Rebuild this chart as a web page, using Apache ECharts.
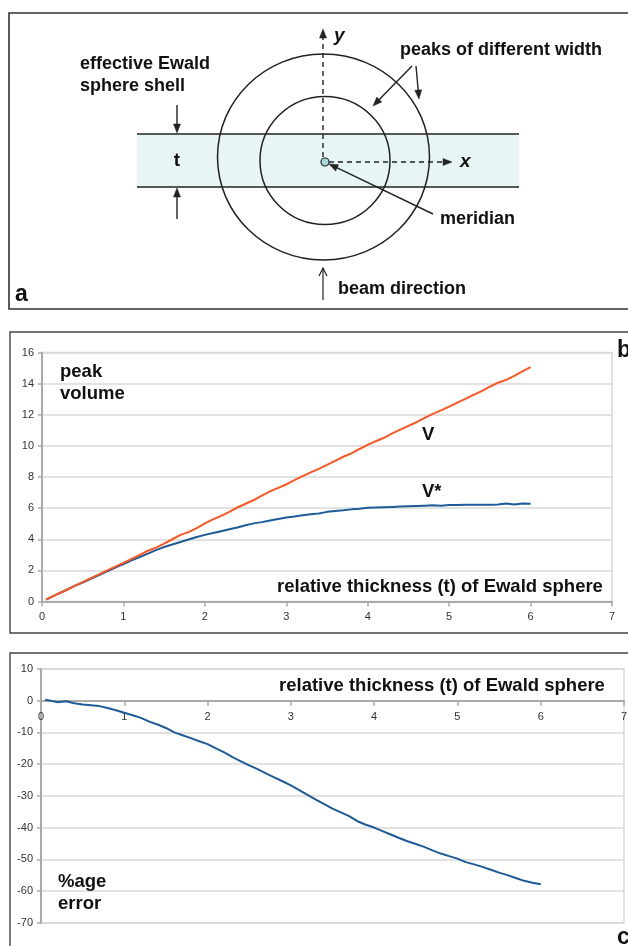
<!DOCTYPE html>
<html>
<head>
<meta charset="utf-8">
<script src="https://cdn.jsdelivr.net/npm/echarts@6/dist/echarts.min.js"></script>
<style>
  html, body { margin: 0; padding: 0; background: #fff; }
  #chart { width: 628px; height: 946px; }
</style>
</head>
<body>
<div id="chart"></div>
<script>
// Relative thickness t of the Ewald sphere shell
const thickness = [0.05, 0.1, 0.2, 0.3, 0.4, 0.5, 0.6, 0.7, 0.8, 0.9, 1.0,
  1.1, 1.2, 1.3, 1.4, 1.5, 1.6, 1.7, 1.8, 1.9, 2.0,
  2.1, 2.2, 2.3, 2.4, 2.5, 2.6, 2.7, 2.8, 2.9, 3.0,
  3.1, 3.2, 3.3, 3.4, 3.5, 3.6, 3.7, 3.8, 3.9, 4.0,
  4.1, 4.2, 4.3, 4.4, 4.5, 4.6, 4.7, 4.8, 4.9, 5.0,
  5.1, 5.2, 5.3, 5.4, 5.5, 5.6, 5.7, 5.8, 5.9, 6.0];

// Peak volume V
const volumeV = [0.12, 0.25, 0.50, 0.74, 1.00, 1.24, 1.50, 1.74, 2.00, 2.24, 2.48,
  2.74, 3.00, 3.26, 3.46, 3.72, 4.00, 4.28, 4.46, 4.72, 5.02,
  5.28, 5.50, 5.76, 6.04, 6.28, 6.52, 6.80, 7.08, 7.30, 7.52,
  7.80, 8.06, 8.30, 8.52, 8.78, 9.04, 9.30, 9.52, 9.80, 10.06,
  10.30, 10.52, 10.80, 11.04, 11.28, 11.52, 11.80, 12.06, 12.28, 12.52,
  12.78, 13.02, 13.28, 13.52, 13.80, 14.06, 14.24, 14.50, 14.78, 15.06];

// Peak volume V*
const volumeVStar = [0.12, 0.25, 0.50, 0.74, 1.00, 1.22, 1.46, 1.70, 1.94, 2.18, 2.40,
  2.64, 2.86, 3.08, 3.30, 3.50, 3.66, 3.82, 3.98, 4.14, 4.28,
  4.40, 4.52, 4.64, 4.76, 4.90, 5.02, 5.10, 5.20, 5.30, 5.40,
  5.46, 5.54, 5.60, 5.66, 5.76, 5.82, 5.86, 5.92, 5.96, 6.02,
  6.04, 6.06, 6.08, 6.10, 6.12, 6.14, 6.16, 6.18, 6.16, 6.20,
  6.20, 6.22, 6.22, 6.22, 6.22, 6.24, 6.30, 6.24, 6.30, 6.28];

// Percentage error
const percentError = [0.3, 0.1, -0.5, -0.2, -0.8, -1.2, -1.4, -1.7, -2.3, -3.0, -3.8,
  -4.6, -5.4, -6.6, -7.5, -8.6, -10.0, -10.9, -11.8, -12.8, -13.7,
  -15.0, -16.3, -17.8, -19.1, -20.4, -21.6, -22.9, -24.2, -25.4, -26.7,
  -28.2, -29.7, -31.2, -32.6, -34.0, -35.2, -36.4, -38.0, -39.1, -40.0,
  -41.1, -42.2, -43.3, -44.3, -45.2, -46.1, -47.2, -48.2, -49.0, -49.8,
  -50.9, -51.6, -52.4, -53.3, -54.2, -55.0, -55.9, -56.8, -57.4, -57.9];

const FONT = "'Liberation Sans', Arial, sans-serif";
const INK = '#111';
const LINE = '#222';

function pairs(xs, ys) { return xs.map((x, i) => [x, ys[i]]); }

// text placed by its baseline
function label(text, x, baseline, size, extra) {
  const o = Object.assign({ weight: 'bold', style: '', align: 'left' }, extra || {});
  return {
    type: 'text', z: 50,
    style: {
      text: text, x: x, y: baseline - 0.31 * size,
      font: o.style + ' ' + o.weight + ' ' + size + 'px ' + FONT,
      fill: INK, align: o.align, verticalAlign: 'middle'
    }
  };
}

function headPoints(fx, fy, tx, ty, len, half) {
  const dx = tx - fx, dy = ty - fy, d = Math.hypot(dx, dy);
  const ux = dx / d, uy = dy / d;
  const bx = tx - ux * len, by = ty - uy * len;
  const px = -uy * half, py = ux * half;
  return [[bx + px, by + py], [tx, ty], [bx - px, by - py]];
}

function arrow(fx, fy, tx, ty, opts) {
  const o = Object.assign({ dash: null, open: false, len: 9, half: 3.5, width: 1.4 }, opts || {});
  const dx = tx - fx, dy = ty - fy, d = Math.hypot(dx, dy);
  const stop = o.open ? 0 : o.len - 1;
  const ex = tx - dx / d * stop, ey = ty - dy / d * stop;
  const items = [{
    type: 'line', z: 30,
    shape: { x1: fx, y1: fy, x2: ex, y2: ey },
    style: { stroke: LINE, lineWidth: o.width, lineDash: o.dash }
  }];
  const pts = headPoints(fx, fy, tx, ty, o.len, o.half);
  if (o.open) {
    items.push({ type: 'polyline', z: 30, shape: { points: pts }, style: { stroke: LINE, lineWidth: o.width, fill: null } });
  } else {
    items.push({ type: 'polygon', z: 30, shape: { points: pts }, style: { fill: LINE, stroke: LINE, lineWidth: 0.5 } });
  }
  return items;
}

// Schematic of the shell cutting through the peaks
const schematic = [
  { type: 'rect', z: 5, shape: { x: 9, y: 13, width: 700, height: 296 }, style: { fill: null, stroke: '#333', lineWidth: 1.6 } },
  { type: 'rect', z: 10, shape: { x: 137, y: 134, width: 382, height: 53 }, style: { fill: '#e8f5f5' } },
  { type: 'line', z: 20, shape: { x1: 137, y1: 134, x2: 519, y2: 134 }, style: { stroke: LINE, lineWidth: 1.5 } },
  { type: 'line', z: 20, shape: { x1: 137, y1: 187, x2: 519, y2: 187 }, style: { stroke: LINE, lineWidth: 1.5 } },
  { type: 'ellipse', z: 20, shape: { cx: 323.5, cy: 157, rx: 106, ry: 103 }, style: { fill: null, stroke: LINE, lineWidth: 1.5 } },
  { type: 'ellipse', z: 20, shape: { cx: 325, cy: 160.5, rx: 65, ry: 64 }, style: { fill: null, stroke: LINE, lineWidth: 1.5 } }
]
  .concat(arrow(323, 157, 323, 29, { dash: [5, 4] }))
  .concat(arrow(329, 162, 452, 162, { dash: [5, 4] }))
  .concat(arrow(177, 105, 177, 133))
  .concat(arrow(177, 219, 177, 188))
  .concat(arrow(412, 66, 373, 106))
  .concat(arrow(416, 66, 419, 99))
  .concat(arrow(433, 214, 329, 164))
  .concat(arrow(323, 300, 323, 268, { open: true, len: 8, half: 4, width: 1.2 }))
  .concat([
    { type: 'circle', z: 40, shape: { cx: 325, cy: 162, r: 4 }, style: { fill: '#a6dada', stroke: LINE, lineWidth: 1.2 } },
    label('effective Ewald', 80, 70, 18),
    label('sphere shell', 80, 92, 18),
    label('peaks of different width', 400, 56, 18),
    label('t', 177, 167, 19, { align: 'center' }),
    label('meridian', 440, 225, 18),
    label('beam direction', 338, 295, 18),
    label('y', 334, 42, 19, { style: 'italic' }),
    label('x', 460, 168, 19, { style: 'italic' }),
    label('a', 15, 302, 23)
  ]);

const frames = [
  { type: 'rect', z: 5, shape: { x: 10, y: 332, width: 700, height: 301 }, style: { fill: null, stroke: '#444', lineWidth: 1.4 } },
  { type: 'rect', z: 5, shape: { x: 10, y: 653, width: 700, height: 320 }, style: { fill: null, stroke: '#444', lineWidth: 1.4 } },
  label('peak', 60, 378, 18.5),
  label('volume', 60, 400, 18.5),
  label('V', 422, 441, 18.5),
  label('V*', 422, 498, 18.5),
  label('relative thickness (t) of Ewald sphere', 277, 593, 18.5),
  label('b', 617, 358, 23),
  label('relative thickness (t) of Ewald sphere', 279, 692, 18.5),
  label('%age', 58, 888, 18.5),
  label('error', 58, 910, 18.5),
  label('c', 617, 945, 23)
];

const axisGray = '#aaaaaa';
const gridGray = '#d9d9d9';
const tickFont = { fontSize: 11, color: '#333', fontFamily: FONT };

// grid boxes of the two plots
const gridB = { left: 42, top: 352.5, width: 570, height: 249 };
const gridC = { left: 41, top: 669, width: 583, height: 253.7 };
const errMin = -70, errMax = 10;
// lift the error plot's x axis from the bottom edge up to the zero line
const zeroLift = -gridC.height * (0 - errMin) / (errMax - errMin);

function xAxisFor(gridIndex, margin, offset) {
  return {
    type: 'value', gridIndex: gridIndex, min: 0, max: 7, interval: 1,
    offset: offset,
    axisLine: { show: true, onZero: false, lineStyle: { color: axisGray, width: 2 } },
    axisTick: { show: true, length: 5, lineStyle: { color: axisGray, width: 1.5 } },
    axisLabel: Object.assign({ margin: margin, showMinLabel: true, showMaxLabel: true }, tickFont),
    splitLine: { show: false }
  };
}
function yAxisFor(gridIndex, min, max, interval) {
  return {
    type: 'value', gridIndex: gridIndex, min: min, max: max, interval: interval,
    axisLine: { show: true, onZero: false, lineStyle: { color: axisGray, width: 2 } },
    axisTick: { show: true, length: 4, lineStyle: { color: axisGray, width: 1.5 } },
    axisLabel: Object.assign({ margin: 8, showMinLabel: true, showMaxLabel: true }, tickFont),
    splitLine: { show: true, lineStyle: { color: gridGray, width: 1.5 } }
  };
}

const gridCommon = { show: true, borderColor: gridGray, borderWidth: 1.5, backgroundColor: 'transparent', outerBoundsMode: 'none' };

const chart = echarts.init(document.getElementById('chart'), null, { renderer: 'canvas' });
chart.setOption({
  animation: false,
  backgroundColor: '#fff',
  grid: [Object.assign({}, gridB, gridCommon), Object.assign({}, gridC, gridCommon)],
  xAxis: [xAxisFor(0, 10, 0), xAxisFor(1, 11, zeroLift)],
  yAxis: [yAxisFor(0, 0, 16, 2), yAxisFor(1, errMin, errMax, 10)],
  series: [
    { name: 'V*', type: 'line', xAxisIndex: 0, yAxisIndex: 0, data: pairs(thickness, volumeVStar),
      showSymbol: false, lineStyle: { color: '#1d5b99', width: 2 }, z: 3 },
    { name: 'V', type: 'line', xAxisIndex: 0, yAxisIndex: 0, data: pairs(thickness, volumeV),
      showSymbol: false, lineStyle: { color: '#ff5520', width: 2 }, z: 4 },
    { name: '%age error', type: 'line', xAxisIndex: 1, yAxisIndex: 1, data: pairs(thickness, percentError),
      showSymbol: false, lineStyle: { color: '#1d5b99', width: 2 }, z: 3 }
  ],
  graphic: schematic.concat(frames)
});
</script>
</body>
</html>
